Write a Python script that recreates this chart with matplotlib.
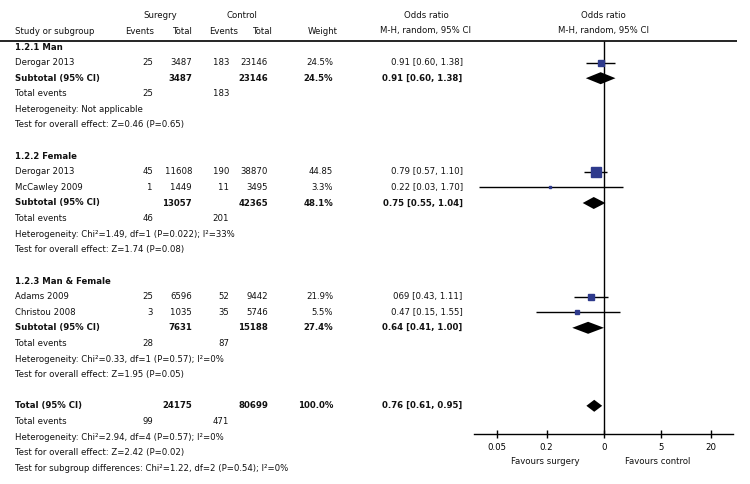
import numpy as np
import matplotlib
matplotlib.use("Agg")
import matplotlib.pyplot as plt
from matplotlib import font_manager
from matplotlib.ticker import NullLocator

# narrow font if one is around, else plain Liberation Sans a bit smaller
_fonts = font_manager.fontManager.ttflist
if any(f.name == "Liberation Sans Narrow" for f in _fonts):
    plt.rcParams["font.family"] = ["Liberation Sans Narrow", "DejaVu Sans"]
    FS = 8
elif any(f.name == "DejaVu Sans" and f.stretch == "condensed" for f in _fonts):
    plt.rcParams["font.family"] = ["DejaVu Sans"]
    plt.rcParams["font.stretch"] = "condensed"
    FS = 6.8
else:
    plt.rcParams["font.family"] = ["Liberation Sans", "DejaVu Sans"]
    FS = 6.8
plt.rcParams["font.size"] = FS

# ---- values ----
GROUPS = ["1.2.1 Man", "1.2.2 Female", "1.2.3 Man & Female"]
study_group = [0, 1, 1, 2, 2]
studies = ["Derogar 2013", "Derogar 2013", "McCawley 2009", "Adams 2009", "Christou 2008"]
surg_events = [25, 45, 1, 25, 3]
surg_total = [3487, 11608, 1449, 6596, 1035]
ctrl_events = [183, 190, 11, 52, 35]
ctrl_total = [23146, 38870, 3495, 9442, 5746]
weights = [24.5, 44.85, 3.3, 21.9, 5.5]
weight_labels = ["24.5%", "44.85", "3.3%", "21.9%", "5.5%"]
or_est = [0.91, 0.79, 0.22, 0.69, 0.47]
or_lo = [0.60, 0.57, 0.03, 0.43, 0.15]
or_hi = [1.38, 1.10, 1.70, 1.11, 1.55]
or_labels = ["0.91 [0.60, 1.38]", "0.79 [0.57, 1.10]", "0.22 [0.03, 1.70]",
             "069 [0.43, 1.11]", "0.47 [0.15, 1.55]"]

sub_surg_total = [3487, 13057, 7631]
sub_ctrl_total = [23146, 42365, 15188]
sub_weight = ["24.5%", "48.1%", "27.4%"]
sub_surg_events = [25, 46, 28]
sub_ctrl_events = [183, 201, 87]
sub_est = [0.91, 0.75, 0.64]
sub_lo = [0.60, 0.55, 0.41]
sub_hi = [1.38, 1.04, 1.00]
sub_labels = ["0.91 [0.60, 1.38]", "0.75 [0.55, 1.04]", "0.64 [0.41, 1.00]"]
sub_het = ["Heterogeneity: Not applicable",
           "Heterogeneity: Chi²=1.49, df=1 (P=0.022); I²=33%",
           "Heterogeneity: Chi²=0.33, df=1 (P=0.57); I²=0%"]
sub_test = ["Test for overall effect: Z=0.46 (P=0.65)",
            "Test for overall effect: Z=1.74 (P=0.08)",
            "Test for overall effect: Z=1.95 (P=0.05)"]

tot_surg_total, tot_ctrl_total, tot_weight = 24175, 80699, "100.0%"
tot_surg_events, tot_ctrl_events = 99, 471
tot_est, tot_lo, tot_hi = 0.76, 0.61, 0.95
tot_label = "0.76 [0.61, 0.95]"
tot_lines = ["Heterogeneity: Chi²=2.94, df=4 (P=0.57); I²=0%",
             "Test for overall effect: Z=2.42 (P=0.02)",
             "Test for subgroup differences: Chi²=1.22, df=2 (P=0.54); I²=0%"]

TICKS = [0.05, 0.2, 1, 5, 20]
TICK_LABELS = ["0.05", "0.2", "0", "5", "20"]

# ---- layout (pixel units) ----
W, H = 750, 484
Y0, STEP = 47.0, 15.6
X_NAME, X_EVS, X_TOTS, X_EVC, X_TOTC, X_WT, X_OR = 15, 153, 192, 229, 268, 333, 462.7
AX_L, AX_R, AX_Y = 474, 733, 434.3
NAVY = "#2E3A8C"

fig = plt.figure(figsize=(7.5, 4.84), dpi=100)
tx = fig.add_axes([0, 0, 1, 1])
tx.set_xlim(0, W); tx.set_ylim(H, 0); tx.axis("off")

fx = fig.add_axes([AX_L / W, 1 - AX_Y / H, (AX_R - AX_L) / W, AX_Y / H])
fx.set_xscale("log")
fx.set_xlim(0.026, 37.4)
fx.set_ylim(AX_Y, 0)
fx.patch.set_visible(False)
for s in ("top", "left", "right"):
    fx.spines[s].set_visible(False)
fx.spines["bottom"].set_linewidth(1.0)
fx.set_yticks([])
fx.set_xticks(TICKS)
fx.set_xticklabels(TICK_LABELS)
fx.xaxis.set_minor_locator(NullLocator())
fx.tick_params(axis="x", direction="inout", length=6, width=1.0, pad=3, labelsize=FS)


def put(x, y, s, ha="left", bold=False):
    tx.text(x, y, s, ha=ha, va="center", fontweight="bold" if bold else "normal", color="#111111")


def diamond(y, est, lo, hi):
    fx.fill([lo, est, hi, est], [y, y - 6, y, y + 6], color="k", lw=0, zorder=4)


# headers
put(160, 15, "Suregry", ha="center")
put(242, 15, "Control", ha="center")
put(426, 15, "Odds ratio", ha="center")
put(603, 15, "Odds ratio", ha="center")
put(X_NAME, 31, "Study or subgroup")
for x, s in ((140, "Events"), (183, "Total"), (224, "Events"), (263, "Total"), (323, "Weight"),
             (425, "M-H, random, 95% CI"), (603, "M-H, random, 95% CI")):
    put(x, 31, s, ha="center")
tx.hlines(41, 0, 737, color="k", lw=1.2)

row = 0
for g, gname in enumerate(GROUPS):
    y = Y0 + STEP * row
    put(X_NAME, y, gname, bold=True)
    row += 1
    for i in [k for k, sg in enumerate(study_group) if sg == g]:
        y = Y0 + STEP * row
        put(X_NAME, y, studies[i])
        put(X_EVS, y, str(surg_events[i]), ha="right")
        put(X_TOTS, y, str(surg_total[i]), ha="right")
        put(X_EVC, y, str(ctrl_events[i]), ha="right")
        put(X_TOTC, y, str(ctrl_total[i]), ha="right")
        put(X_WT, y, weight_labels[i], ha="right")
        put(X_OR, y, or_labels[i], ha="right")
        fx.hlines(y, or_lo[i], or_hi[i], color="k", lw=1.0, zorder=2)
        fx.plot(or_est[i], y, marker="s", ms=np.sqrt(weights[i]) * 1.0,
                color=NAVY, mec=NAVY, zorder=3)
        row += 1
    y = Y0 + STEP * row
    put(X_NAME, y, "Subtotal (95% CI)", bold=True)
    put(X_TOTS, y, str(sub_surg_total[g]), ha="right", bold=True)
    put(X_TOTC, y, str(sub_ctrl_total[g]), ha="right", bold=True)
    put(X_WT, y, sub_weight[g], ha="right", bold=True)
    put(X_OR, y, sub_labels[g], ha="right", bold=True)
    diamond(y, sub_est[g], sub_lo[g], sub_hi[g])
    row += 1
    y = Y0 + STEP * row
    put(X_NAME, y, "Total events")
    put(X_EVS, y, str(sub_surg_events[g]), ha="right")
    put(X_EVC, y, str(sub_ctrl_events[g]), ha="right")
    row += 1
    put(X_NAME, Y0 + STEP * row, sub_het[g])
    row += 1
    put(X_NAME, Y0 + STEP * row, sub_test[g])
    row += 2

y = Y0 + STEP * row
put(X_NAME, y, "Total (95% CI)", bold=True)
put(X_TOTS, y, str(tot_surg_total), ha="right", bold=True)
put(X_TOTC, y, str(tot_ctrl_total), ha="right", bold=True)
put(X_WT, y, tot_weight, ha="right", bold=True)
put(X_OR, y, tot_label, ha="right", bold=True)
diamond(y, tot_est, tot_lo, tot_hi)
row += 1
y = Y0 + STEP * row
put(X_NAME, y, "Total events")
put(X_EVS, y, str(tot_surg_events), ha="right")
put(X_EVC, y, str(tot_ctrl_events), ha="right")
row += 1
for line in tot_lines:
    put(X_NAME, Y0 + STEP * row, line)
    row += 1

# line of no effect
fx.vlines(1, 41, AX_Y, color="k", lw=1.0, zorder=1)

put(545, 462, "Favours surgery", ha="center")
put(658, 462, "Favours control", ha="center")

fig.savefig("out.png", dpi=100)
